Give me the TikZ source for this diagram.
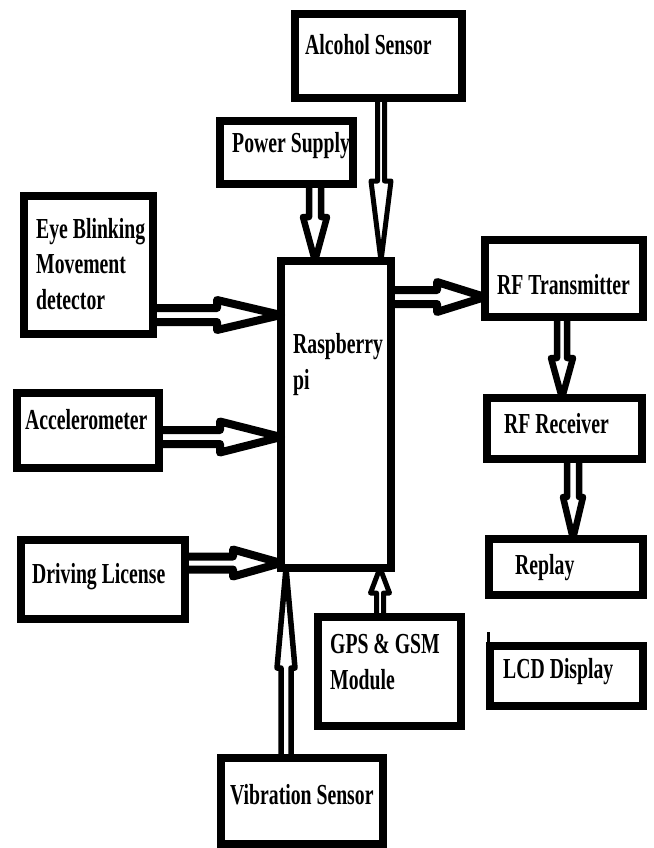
\documentclass[tikz,border=0pt]{standalone}
\usepackage{fontspec}
\newfontfamily\lblfont{Liberation Serif}[FakeStretch=0.68]
\usetikzlibrary{calc}
\tikzset{
  box/.style={draw=black, line width=8pt, inner sep=0pt, outer sep=0pt, fill=none},
  lbl/.style={inner sep=0pt, anchor=base west, align=left, text=black,
    font=\lblfont\bfseries\fontsize{29}{35.5}\selectfont},
  arrowline/.style={draw=black, line join=round, line cap=butt}
}
% #1 tail, #2 tip, #3 half shaft, #4 half head, #5 head length, #6 line width
\newcommand\hollowarr[6]{%
  \coordinate (hb) at ($(#2)!#5!(#1)$);
  \draw[arrowline, line width=#6]
    ($(#1)!#3!90:(#2)$) -- ($(hb)!#3!90:(#2)$) -- ($(hb)!#4!90:(#2)$) -- (#2)
    -- ($(hb)!#4!-90:(#2)$) -- ($(hb)!#3!-90:(#2)$) -- ($(#1)!#3!-90:(#2)$);
}
\begin{document}
\begin{tikzpicture}[x=1pt, y=-1pt]
\useasboundingbox (0,0) rectangle (653,848);
% boxes
\node[box, minimum width=167pt, minimum height=84pt]  (alc) at (378.5,56) {};
\node[box, minimum width=133pt, minimum height=63pt]  (ps)  at (286.5,152.5) {};
\node[box, minimum width=129pt, minimum height=138pt] (eye) at (88.5,265) {};
\node[box, minimum width=142pt, minimum height=75pt]  (acc) at (88,430.5) {};
\node[box, minimum width=164pt, minimum height=79pt]  (drv) at (103,579.5) {};
\node[box, minimum width=110pt, minimum height=307pt] (rpi) at (336,414.5) {};
\node[box, minimum width=158pt, minimum height=77pt]  (rftx) at (564,278.5) {};
\node[box, minimum width=155pt, minimum height=61pt]  (rfrx) at (564.5,428.5) {};
\node[box, minimum width=154pt, minimum height=56pt]  (rep) at (566,567) {};
\node[box, minimum width=153pt, minimum height=60pt]  (lcd) at (566.5,676) {};
\node[box, minimum width=143pt, minimum height=109pt] (gps) at (389.5,671.5) {};
\node[box, minimum width=162pt, minimum height=86pt]  (vib) at (302,801) {};
\draw[black, line width=3pt] ([xshift=-2pt]lcd.north west) -- ++(0,14pt);
% labels (base = baseline of the last line)
\node[lbl] (alct) at (305,55) {Alcohol Sensor};
\node[lbl] (pst) at (232,153) {Power Supply};
\node[lbl] (eyet) at (36,309) {Eye Blinking\\Movement\\detector};
\node[lbl] (acct) at (25,429) {Accelerometer};
\node[lbl] (drvt) at (32,583) {Driving License};
\node[lbl] (rpit) at (293,389) {Raspberry\\pi};
\node[lbl] (rftxt) at (497,294) {RF Transmitter};
\node[lbl] (rfrxt) at (504,433) {RF Receiver};
\node[lbl] (rept) at (515,574) {Replay};
\node[lbl] (lcdt) at (503,678) {LCD Display};
\node[lbl] (gpst) at (330,689) {GPS \& GSM\\Module};
\node[lbl] (vibt) at (230,804) {Vibration Sensor};
% arrow end points
\coordinate (a1s) at ([xshift=28.5pt]ps.south);   \coordinate (a1e) at (a1s |- rpi.north);
\coordinate (a2s) at ([xshift=2.5pt]alc.south);   \coordinate (a2e) at (a2s |- rpi.north);
\coordinate (a3s) at ([yshift=117.5pt]rpi.east);  \coordinate (a3e) at (a3s -| rftx.west);
\coordinate (a4s) at ([xshift=-2pt]rftx.south);   \coordinate (a4e) at (a4s |- rfrx.north);
\coordinate (a5s) at ([xshift=8.5pt]rfrx.south);  \coordinate (a5e) at (a5s |- rep.north);
\coordinate (a6s) at ([yshift=-50pt]eye.east);    \coordinate (a6e) at (a6s -| rpi.west);
\coordinate (a7s) at ([yshift=-6.5pt]acc.east);   \coordinate (a7e) at (a7s -| rpi.west);
\coordinate (a8s) at ([yshift=16.5pt]drv.east);   \coordinate (a8e) at (a8s -| rpi.west);
\coordinate (a9s) at ([xshift=-16pt]vib.north);   \coordinate (a9e) at (a9s |- rpi.south);
\coordinate (a10s) at ([xshift=-9.5pt]gps.north); \coordinate (a10e) at (a10s |- rpi.south);
% arrows
\hollowarr{a1s}{a1e}{6pt}{12pt}{44pt}{6.5pt}
\hollowarr{a2s}{a2e}{3.5pt}{10pt}{80pt}{5pt}
\hollowarr{a3s}{a3e}{7pt}{15pt}{48pt}{8pt}
\hollowarr{a4s}{a4e}{5pt}{11pt}{40pt}{6.5pt}
\hollowarr{a5s}{a5e}{6pt}{10pt}{42pt}{6.5pt}
\hollowarr{a6s}{a6e}{7pt}{15pt}{64pt}{8pt}
\hollowarr{a7s}{a7e}{7pt}{15.5pt}{61pt}{8pt}
\hollowarr{a8s}{a8e}{6.5pt}{13.5pt}{48pt}{8pt}
\hollowarr{a9s}{a9e}{5pt}{9pt}{100pt}{5.5pt}
\hollowarr{a10s}{a10e}{3.5pt}{9.5pt}{25pt}{5pt}
\end{tikzpicture}
\end{document}
